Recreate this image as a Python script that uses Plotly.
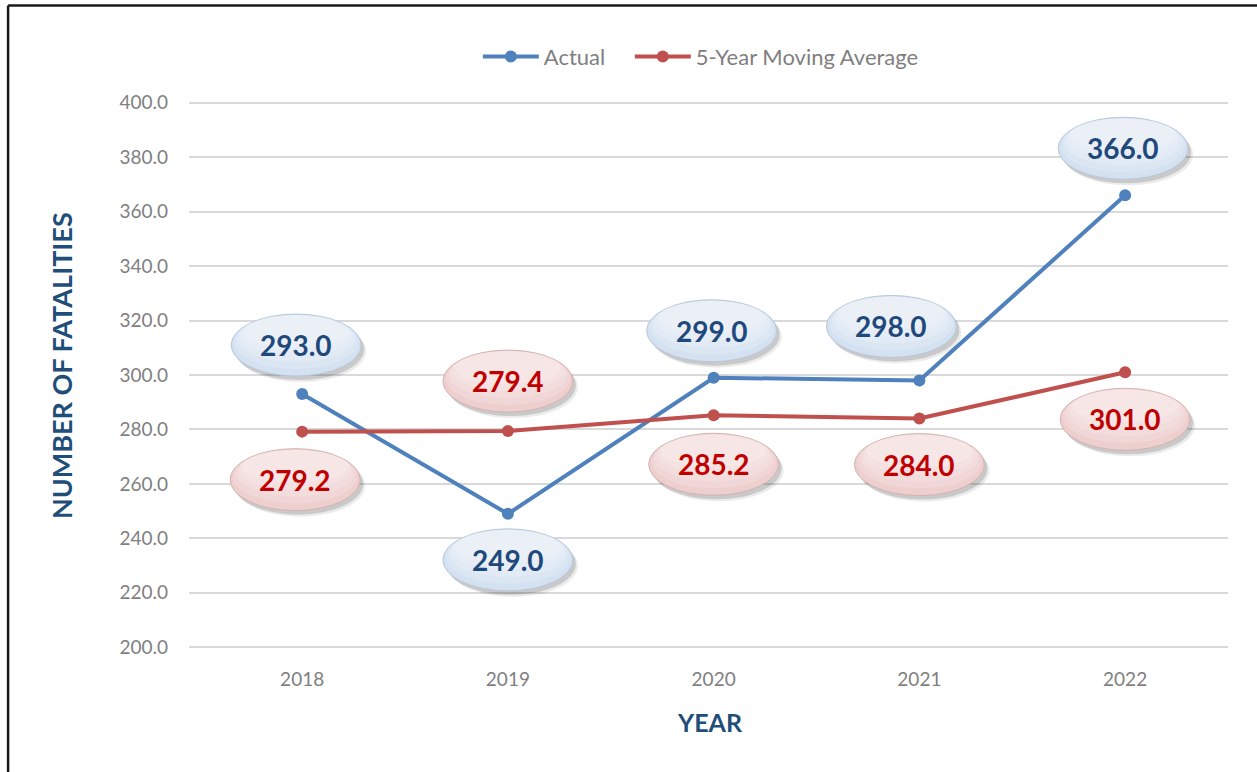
import plotly.graph_objects as go

years = ["2018", "2019", "2020", "2021", "2022"]
actual = [293.0, 249.0, 299.0, 298.0, 366.0]
moving_avg = [279.2, 279.4, 285.2, 284.0, 301.0]

# label offsets (pixels, +y = up) relative to each point
actual_off = [(-6, 49), (0, -46), (-2, 47), (-28, 54), (-2, 47)]
ma_off = [(-7, -48), (0, 50), (0, -49), (0, -46), (0, -47)]

W, H = 1257, 772
L, R, T, B = 189, 28.5, 100.3, 122.3
PW, PH = W - L - R, H - T - B

def px(xp):
    return (xp - L) / PW

def py(yp):
    return 1 - (yp - T) / PH

BLUE = "#4F81BD"
RED = "#C0504D"
FONT = "Lato"
TICK = "#7F7F7F"
TITLE = "#1F4E79"

fig = go.Figure()
fig.add_trace(go.Scatter(x=years, y=actual, name="Actual", mode="lines+markers", legend="legend",
                         line=dict(color=BLUE, width=4), marker=dict(size=12, color=BLUE)))
fig.add_trace(go.Scatter(x=years, y=moving_avg, name="5-Year Moving Average", mode="lines+markers",
                         legend="legend2",
                         line=dict(color=RED, width=4), marker=dict(size=12, color=RED)))

shapes = []
annotations = []
EW, EH = 65, 31

def ell(i, y, x0, x1, y0, y1, fill, line=None):
    shapes.append(dict(type="circle", xref="x", yref="y", xsizemode="pixel", ysizemode="pixel",
                       xanchor=i, yanchor=y, x0=x0, x1=x1, y0=y0, y1=y1, fillcolor=fill,
                       line=line or dict(width=0), layer="above"))

def add_label(i, y, dx, dy, base, grads, textcol, border):
    # soft shadow
    ell(i, y, dx - EW + 5, dx + EW + 5, dy - EH - 6, dy + EH - 6, "rgba(0,0,0,0.08)")
    ell(i, y, dx - EW + 3, dx + EW + 3, dy - EH - 4, dy + EH - 4, "rgba(0,0,0,0.14)")
    # base ellipse
    ell(i, y, dx - EW, dx + EW, dy - EH, dy + EH, base, dict(width=1, color=border))
    # gradient toward top (lighter)
    for k, g in enumerate(grads, start=1):
        ell(i, y, dx - EW + 3 * k, dx + EW - 3 * k, dy - EH + 7 * k, dy + EH - 1, g)
    annotations.append(dict(x=i, y=y, xref="x", yref="y", text=f"<b>{y:.1f}</b>", showarrow=False,
                            xshift=dx, yshift=dy, font=dict(family=FONT, size=28, color=textcol)))

blue_grads = ["rgba(255,255,255,0.18)", "rgba(255,255,255,0.18)", "rgba(255,255,255,0.18)", "rgba(255,255,255,0.2)"]
red_grads = ["rgba(255,255,255,0.16)", "rgba(255,255,255,0.16)", "rgba(255,255,255,0.16)", "rgba(255,255,255,0.18)"]

for i, (y, (dx, dy)) in enumerate(zip(actual, actual_off)):
    add_label(i, y, dx, dy, "#D3E1F1", blue_grads, "#1F497D", "#B7C8DC")
for i, (y, (dx, dy)) in enumerate(zip(moving_avg, ma_off)):
    add_label(i, y, dx, dy, "#EDCFCE", red_grads, "#C00000", "#D6B2B1")

# frame border (top & left)
shapes.append(dict(type="line", xref="paper", yref="paper", x0=px(8), x1=px(W + 5), y0=py(6), y1=py(6),
                   line=dict(color="#1a1a1a", width=2.5), layer="above"))
shapes.append(dict(type="line", xref="paper", yref="paper", x0=px(8), x1=px(8), y0=py(6), y1=py(H + 5),
                   line=dict(color="#1a1a1a", width=2.5), layer="above"))

annotations.append(dict(x=px(62), y=py(366), xref="paper", yref="paper", text="<b>NUMBER OF FATALITIES</b>",
                        xanchor="center", yanchor="middle",
                        showarrow=False, textangle=-90, font=dict(family=FONT, size=27, color=TITLE)))
annotations.append(dict(x=px(710), y=py(722), xref="paper", yref="paper", text="<b>YEAR</b>",
                        xanchor="center", yanchor="middle",
                        showarrow=False, font=dict(family=FONT, size=25, color=TITLE)))

leg_common = dict(orientation="h", xanchor="left", y=py(57), yanchor="middle",
                  font=dict(family=FONT, size=22, color=TICK), itemwidth=56,
                  bgcolor="rgba(0,0,0,0)")

fig.update_layout(
    width=W, height=H,
    margin=dict(l=L, r=R, t=T, b=B),
    paper_bgcolor="white", plot_bgcolor="white",
    showlegend=True,
    legend=dict(x=px(478), **leg_common),
    legend2=dict(x=px(630), **leg_common),
    xaxis=dict(type="category", range=[-0.55, 4.5], showgrid=False, zeroline=False, showline=False,
               ticks="", ticklabelstandoff=16, tickfont=dict(family=FONT, size=19, color=TICK)),
    yaxis=dict(range=[199, 401], tickvals=[200, 220, 240, 260, 280, 300, 320, 340, 360, 380, 400],
               tickformat=".1f", showgrid=True, gridcolor="#D9D9D9", gridwidth=1.5, zeroline=False,
               showline=False, ticks="", ticklabelstandoff=20,
               tickfont=dict(family=FONT, size=19, color=TICK)),
    shapes=shapes, annotations=annotations,
    hovermode=False,
)

fig.write_html("out.html", config={"displayModeBar": False},
               post_script="document.body.style.margin='0';document.body.style.overflow='hidden';")
